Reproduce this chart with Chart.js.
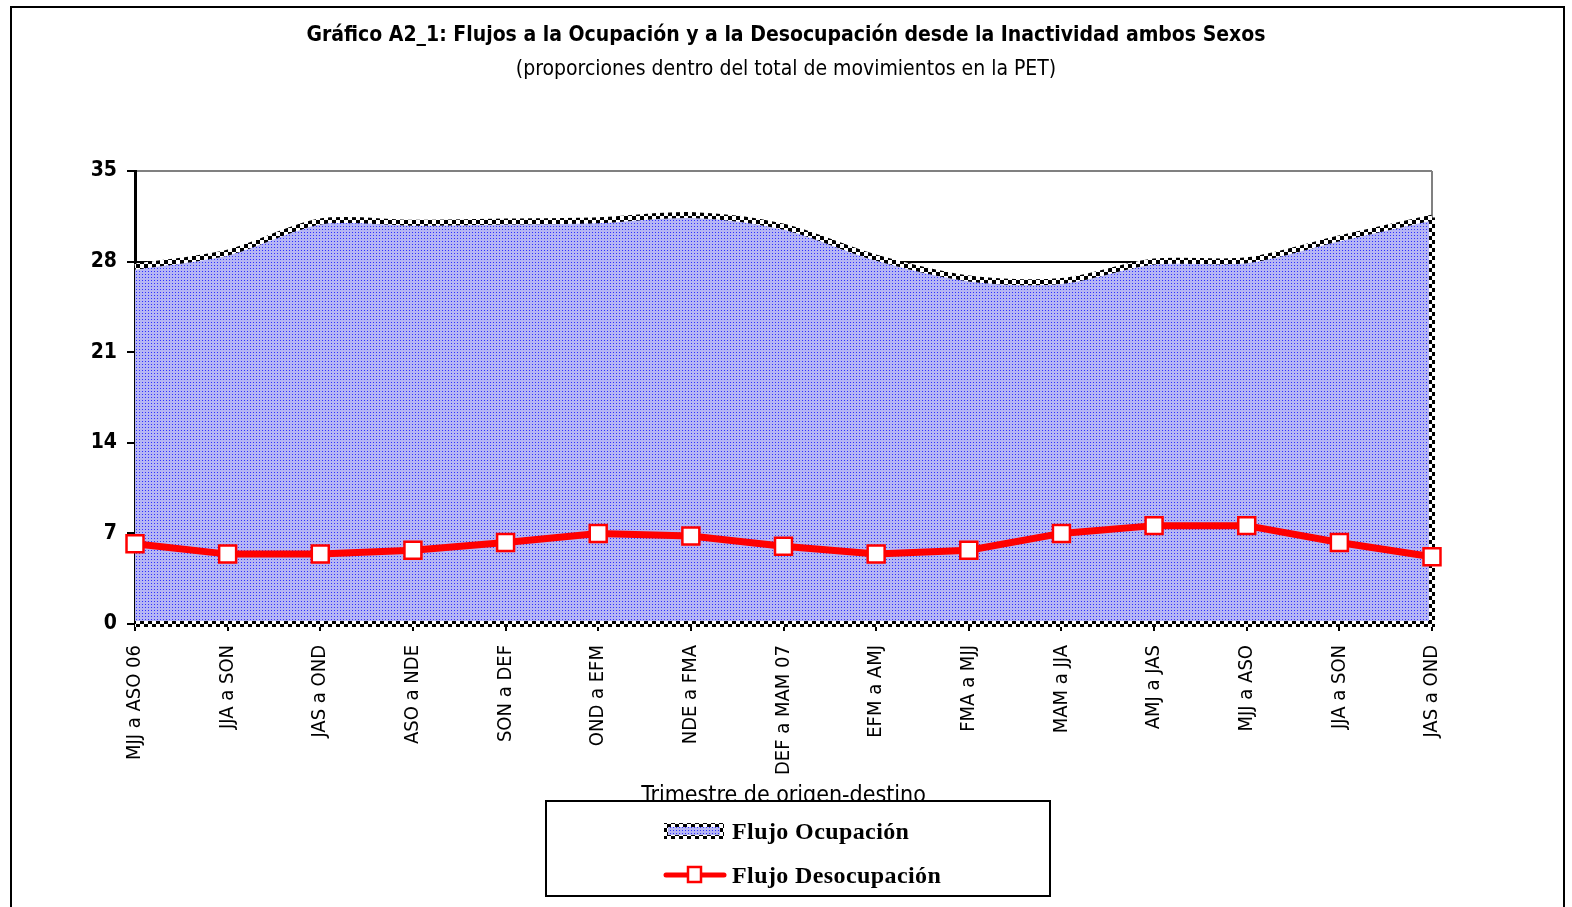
<!DOCTYPE html>
<html>
<head>
<meta charset="utf-8">
<script src="https://cdn.jsdelivr.net/npm/chart.js@4.4.0/dist/chart.umd.min.js"></script>
<style>
  html, body { margin: 0; padding: 0; background: #fff; }
  #wrap { position: relative; width: 1572px; height: 907px; overflow: hidden; }
  #frame { position: absolute; left: 10px; top: 6px; width: 1551px; height: 940px; border: 2px solid #000; }
  #chart { position: absolute; left: 0; top: 0; }
  #legend {
    position: absolute; left: 545px; top: 800px; width: 502px; height: 93px;
    border: 2px solid #000; background: #fff;
    font-family: 'Liberation Serif', 'Times New Roman', serif; font-weight: bold; font-size: 24px; color: #000;
    letter-spacing: 0.4px;
  }
  #legend .item { position: absolute; left: 116px; display: flex; align-items: center; height: 30px; }
  #legend canvas { margin-right: 5px; }
</style>
</head>
<body>
<div id="wrap">
  <div id="frame"></div>
  <canvas id="chart" width="1572" height="907"></canvas>
  <div id="legend"></div>
</div>
<script>
const categories = ['MJJ a ASO 06', 'JJA a SON', 'JAS a OND', 'ASO a NDE', 'SON a DEF', 'OND a EFM', 'NDE a FMA',
  'DEF a MAM 07', 'EFM a AMJ', 'FMA a MJJ', 'MAM a JJA', 'AMJ a JAS', 'MJJ a ASO', 'JJA a SON', 'JAS a OND'];
const flujoOcupacion = [27.6, 28.7, 31.1, 31.0, 31.1, 31.2, 31.6, 30.7, 28.3, 26.7, 26.5, 28.0, 28.1, 29.8, 31.4];
const flujoDesocupacion = [6.2, 5.4, 5.4, 5.7, 6.3, 7.0, 6.8, 6.0, 5.4, 5.7, 7.0, 7.6, 7.6, 6.3, 5.2];
const yTicks = [0, 7, 14, 21, 28, 35];
const seriesNames = ['Flujo Ocupación', 'Flujo Desocupación'];

const narrow = "'Liberation Sans Narrow', 'DejaVu Sans Condensed', 'Arial Narrow', sans-serif";

// dotted blue fill like the excel pattern
function makeDots() {
  const c = document.createElement('canvas');
  c.width = 3; c.height = 3;
  const g = c.getContext('2d');
  g.fillStyle = '#b6b6f4';
  g.fillRect(0, 0, 3, 3);
  g.fillStyle = '#3030ff';
  g.fillRect(1, 1, 1, 1);
  return g.createPattern(c, 'repeat');
}
// black / white checker for the area outline
function makeChecker() {
  const c = document.createElement('canvas');
  c.width = 8; c.height = 8;
  const g = c.getContext('2d');
  g.fillStyle = '#fff';
  g.fillRect(0, 0, 8, 8);
  g.fillStyle = '#000';
  g.fillRect(0, 0, 4, 4);
  g.fillRect(4, 4, 4, 4);
  return g.createPattern(c, 'repeat');
}
const ctx = document.getElementById('chart').getContext('2d');
const dots = makeDots();
const checker = makeChecker();

// grey plot frame on the right, checker edges of the area
const areaEdges = {
  id: 'areaEdges',
  beforeDatasetsDraw(chart) {
    const { ctx, chartArea: a } = chart;
    ctx.save();
    ctx.strokeStyle = '#808080';
    ctx.lineWidth = 2;
    ctx.beginPath();
    ctx.moveTo(a.right, a.top);
    ctx.lineTo(a.right, a.bottom);
    ctx.stroke();
    ctx.restore();
  },
  afterDatasetDraw(chart, args) {
    if (args.index !== 0) return;
    const { ctx, chartArea: a } = chart;
    const pts = chart.getDatasetMeta(0).data;
    const last = pts[pts.length - 1];
    ctx.save();
    ctx.strokeStyle = checker;
    ctx.lineWidth = 6;
    ctx.beginPath();
    ctx.moveTo(last.x, last.y);
    ctx.lineTo(a.right, a.bottom);
    ctx.lineTo(a.left, a.bottom);
    ctx.stroke();
    ctx.restore();
  }
};

const chart = new Chart(ctx, {
  type: 'line',
  data: {
    labels: categories,
    datasets: [
      {
        label: seriesNames[0],
        data: flujoOcupacion,
        fill: 'origin',
        backgroundColor: dots,
        borderColor: checker,
        borderWidth: 6,
        tension: 0.3,
        pointRadius: 0,
        order: 2,
      },
      {
        label: seriesNames[1],
        data: flujoDesocupacion,
        fill: false,
        borderColor: '#ff0000',
        borderWidth: 7,
        tension: 0,
        pointStyle: 'rect',
        pointRadius: 12,
        pointBackgroundColor: '#ffffff',
        pointBorderColor: '#ff0000',
        pointBorderWidth: 2.5,
        order: 1,
      },
    ],
  },
  options: {
    responsive: false,
    animation: false,
    events: [],
    layout: { padding: { left: 85, right: 85, top: 0, bottom: 97 } },
    plugins: {
      legend: { display: false },
      tooltip: { enabled: false },
      title: {
        display: true,
        text: 'Gráfico A2_1: Flujos a la Ocupación y a la Desocupación desde la Inactividad ambos Sexos',
        color: '#000',
        font: { family: narrow, size: 21, weight: 'bold' },
        padding: { top: 23, bottom: 9 },
      },
      subtitle: {
        display: true,
        text: '(proporciones dentro del total de movimientos en la PET)',
        color: '#000',
        font: { family: narrow, size: 21, weight: 'normal' },
        padding: { top: 0, bottom: 88.6 },
      },
    },
    scales: {
      x: {
        offset: false,
        afterFit(scale) { scale.height = 186; },
        border: { display: false },
        grid: { drawOnChartArea: false, tickLength: 7, tickColor: '#000', lineWidth: 2 },
        ticks: {
          autoSkip: false, maxRotation: 90, minRotation: 90, padding: 14,
          color: '#000', font: { family: narrow, size: 20 },
        },
        title: {
          display: true, text: 'Trimestre de origen-destino', color: '#000', padding: 0,
          font: { family: narrow, size: 23 },
        },
      },
      y: {
        min: 0, max: 35,
        afterFit(scale) { scale.width = 50; },
        afterBuildTicks(scale) { scale.ticks = yTicks.map((v) => ({ value: v })); },
        border: { color: '#000', width: 3 },
        grid: {
          color: (c) => (c.tick && c.tick.value === 35 ? '#808080' : '#000'),
          lineWidth: 2, tickLength: 8, tickColor: '#000',
        },
        ticks: { color: '#000', padding: 10, font: { family: narrow, size: 21, weight: 'bold' } },
      },
      // empty right-hand scale so the titles centre on the page
      yRight: {
        position: 'right',
        afterFit(scale) { scale.width = 55; },
        grid: { display: false },
        border: { display: false },
        ticks: { display: false },
      },
    },
  },
  plugins: [areaEdges],
});

// legend box built from the datasets
const legend = document.getElementById('legend');
chart.data.datasets.forEach((ds, i) => {
  const item = document.createElement('div');
  item.className = 'item';
  item.style.top = (i === 0 ? 14 : 58) + 'px';
  const sw = document.createElement('canvas');
  sw.width = 64; sw.height = 22;
  const g = sw.getContext('2d');
  if (ds.fill) {
    g.fillStyle = checker;
    g.fillRect(1, 3, 60, 16);
    g.fillStyle = ds.backgroundColor;
    g.fillRect(5, 7, 52, 8);
  } else {
    g.strokeStyle = ds.borderColor;
    g.lineWidth = 5;
    g.lineCap = 'round';
    g.beginPath(); g.moveTo(3, 11); g.lineTo(61, 11); g.stroke();
    g.fillStyle = ds.pointBackgroundColor;
    g.strokeStyle = ds.pointBorderColor;
    g.lineWidth = 2.5;
    g.fillRect(25, 3, 13, 15);
    g.strokeRect(25, 3, 13, 15);
  }
  const label = document.createElement('span');
  label.textContent = ds.label;
  item.appendChild(sw);
  item.appendChild(label);
  legend.appendChild(item);
});
</script>
</body>
</html>
